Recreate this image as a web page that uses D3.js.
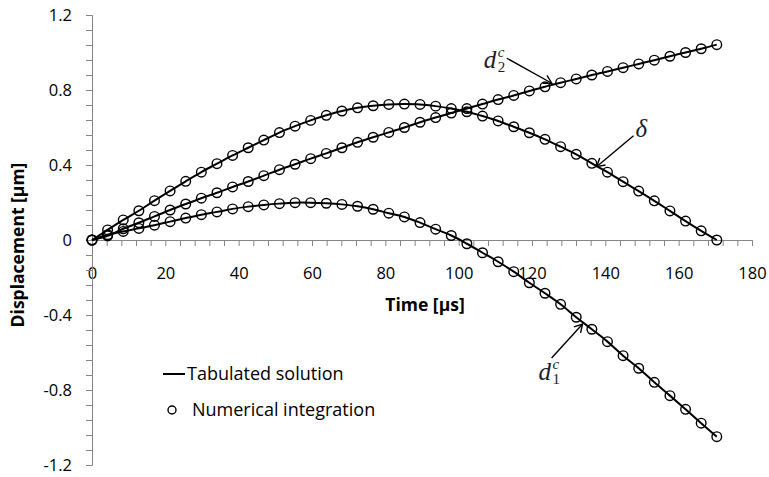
<!DOCTYPE html>
<html>
<head>
<meta charset="utf-8">
<script src="https://cdn.jsdelivr.net/npm/d3@7"></script>
<style>
  body { margin: 0; background: #fff; }
  svg { display: block; }
</style>
</head>
<body>
<svg id="chart" width="769" height="477"></svg>
<script>
// sample times [µs]
const times = [0, 4.26, 8.52, 12.78, 17.04, 21.3, 25.56, 29.82, 34.08, 38.34, 42.6,
  46.86, 51.12, 55.38, 59.64, 63.9, 68.16, 72.42, 76.68, 80.94, 85.2,
  89.46, 93.72, 97.98, 102.24, 106.5, 110.76, 115.02, 119.28, 123.54, 127.8,
  132.06, 136.32, 140.58, 144.84, 149.1, 153.36, 157.62, 161.88, 166.14, 170.4];

// displacements [µm]
const d1 = [0, 0.028, 0.046, 0.062, 0.079, 0.098, 0.117, 0.135, 0.150, 0.166, 0.178,
  0.187, 0.194, 0.199, 0.199, 0.196, 0.190, 0.180, 0.164, 0.143, 0.123,
  0.093, 0.058, 0.024, -0.020, -0.068, -0.116, -0.169, -0.228, -0.284, -0.343,
  -0.412, -0.476, -0.542, -0.617, -0.684, -0.759, -0.830, -0.903, -0.977, -1.049];

const d2 = [0, 0.022, 0.060, 0.092, 0.126, 0.160, 0.192, 0.223, 0.252, 0.283, 0.312,
  0.343, 0.375, 0.404, 0.434, 0.462, 0.492, 0.521, 0.548, 0.574, 0.600,
  0.628, 0.653, 0.677, 0.701, 0.725, 0.749, 0.771, 0.795, 0.817, 0.839,
  0.859, 0.880, 0.899, 0.919, 0.939, 0.959, 0.980, 1.000, 1.020, 1.042];

const delta = [0, 0.054, 0.107, 0.156, 0.210, 0.262, 0.313, 0.362, 0.407, 0.451, 0.492,
  0.533, 0.573, 0.607, 0.638, 0.665, 0.688, 0.705, 0.716, 0.723, 0.725,
  0.723, 0.714, 0.701, 0.684, 0.661, 0.635, 0.604, 0.572, 0.537, 0.498,
  0.457, 0.409, 0.362, 0.311, 0.261, 0.209, 0.155, 0.101, 0.049, 0];

const xMajor = [0, 20, 40, 60, 80, 100, 120, 140, 160, 180];
const yMajor = [-1.2, -0.8, -0.4, 0, 0.4, 0.8, 1.2];

// arrow labels: target point on the curve, where the arrow starts, where the text sits
const notes = [
  { base: "d", sub: "2", sup: "c", t: 125.4, v: 0.836, from: [-45, -25], at: [-68, -15] },
  { base: "δ", t: 137.6, v: 0.391, from: [37, -31], at: [39, -30] },
  { base: "d", sub: "1", sup: "c", t: 133.8, v: -0.448, from: [-31, 34], at: [-44, 56] }
];

const svg = d3.select("#chart");
const font = "'Open Sans', 'DejaVu Sans', sans-serif";
const axisColor = "#868686";

const x = d3.scaleLinear().domain([0, 180]).range([92, 752]);
const y = d3.scaleLinear().domain([-1.2, 1.2]).range([465, 15]);

// minor ticks every 4 µs / 0.08 µm, labels only on the majors
const xMinor = d3.range(0, 46).map(i => i * 4);
const yMinor = d3.range(-15, 16).map(i => i * 0.08);
const isMajor = (list, v) => list.some(m => Math.abs(m - v) < 1e-6);

const fmt = v => String(+v.toFixed(1));

const xAxis = svg.append("g")
    .attr("transform", `translate(0,${y(0)})`)
    .call(d3.axisBottom(x)
        .tickValues(xMinor)
        .tickSize(6)
        .tickPadding(21)
        .tickFormat(v => isMajor(xMajor, v) ? fmt(v) : ""));

const yAxis = svg.append("g")
    .attr("transform", `translate(${x(0)},0)`)
    .call(d3.axisLeft(y)
        .tickValues(yMinor)
        .tickSize(6)
        .tickPadding(14)
        .tickFormat(v => isMajor(yMajor, v) ? fmt(v) : ""));

[xAxis, yAxis].forEach(g => {
    g.select(".domain").attr("stroke", axisColor).attr("stroke-width", 1);
    g.selectAll(".tick line").attr("stroke", axisColor);
    g.selectAll(".tick text")
        .attr("fill", "#000")
        .style("font-family", font)
        .style("font-size", "16.5px");
});

// axis titles
svg.append("text")
    .attr("x", 425).attr("y", 311)
    .attr("text-anchor", "middle")
    .style("font-family", font).style("font-weight", "bold").style("font-size", "17.5px")
    .text("Time [µs]");

svg.append("text")
    .attr("transform", "translate(24,245) rotate(-90)")
    .attr("text-anchor", "middle")
    .style("font-family", font).style("font-weight", "bold").style("font-size", "17.5px")
    .text("Displacement [µm]");

// curves + markers
const seriesList = [d1, d2, delta];
const line = d3.line()
    .x((d, i) => x(times[i]))
    .y(d => y(d))
    .curve(d3.curveCatmullRom);

svg.append("g").selectAll("path")
    .data(seriesList)
    .join("path")
    .attr("d", line)
    .attr("fill", "none")
    .attr("stroke", "#000")
    .attr("stroke-width", 2);

svg.append("g").selectAll("g")
    .data(seriesList)
    .join("g")
    .selectAll("circle")
    .data(d => d)
    .join("circle")
    .attr("cx", (d, i) => x(times[i]))
    .attr("cy", d => y(d))
    .attr("r", 4.8)
    .attr("fill", "none")
    .attr("stroke", "#000")
    .attr("stroke-width", 1.4);

// arrows
svg.append("defs").append("marker")
    .attr("id", "head")
    .attr("viewBox", "-10 -6 12 12")
    .attr("refX", 0).attr("refY", 0)
    .attr("markerWidth", 12).attr("markerHeight", 12)
    .attr("markerUnits", "userSpaceOnUse")
    .attr("orient", "auto")
    .append("path")
    .attr("d", "M-8,-4.5 L0,0 L-8,4.5")
    .attr("fill", "none")
    .attr("stroke", "#000")
    .attr("stroke-width", 1.4);

const noteG = svg.append("g").selectAll("g")
    .data(notes)
    .join("g")
    .attr("transform", d => `translate(${x(d.t)},${y(d.v)})`);

noteG.append("line")
    .attr("x1", d => d.from[0]).attr("y1", d => d.from[1])
    .attr("x2", 0).attr("y2", 0)
    .attr("stroke", "#000")
    .attr("stroke-width", 1.4)
    .attr("marker-end", "url(#head)");

const serif = "'Liberation Serif', 'DejaVu Serif', serif";
noteG.append("text")
    .attr("x", d => d.at[0]).attr("y", d => d.at[1])
    .style("font-family", serif).style("font-style", "italic").style("font-size", "25px")
    .attr("fill", "#1c1c2c")
    .text(d => d.base);
noteG.filter(d => d.sub).append("text")
    .attr("x", d => d.at[0] + 14).attr("y", d => d.at[1] + 4)
    .style("font-family", serif).style("font-size", "15px")
    .attr("fill", "#1c1c2c")
    .text(d => d.sub);
noteG.filter(d => d.sup).append("text")
    .attr("x", d => d.at[0] + 14).attr("y", d => d.at[1] - 11)
    .style("font-family", serif).style("font-style", "italic").style("font-size", "15px")
    .attr("fill", "#1c1c2c")
    .text(d => d.sup);

// legend
const legend = svg.append("g").style("font-family", font).style("font-size", "18px");
legend.append("line")
    .attr("x1", 163).attr("x2", 185).attr("y1", 374).attr("y2", 374)
    .attr("stroke", "#000").attr("stroke-width", 2);
legend.append("text").attr("x", 187).attr("y", 380).text("Tabulated solution");
legend.append("circle")
    .attr("cx", 172).attr("cy", 410).attr("r", 4)
    .attr("fill", "none").attr("stroke", "#000").attr("stroke-width", 1.4);
legend.append("text").attr("x", 192).attr("y", 416).text("Numerical integration");
</script>
</body>
</html>
